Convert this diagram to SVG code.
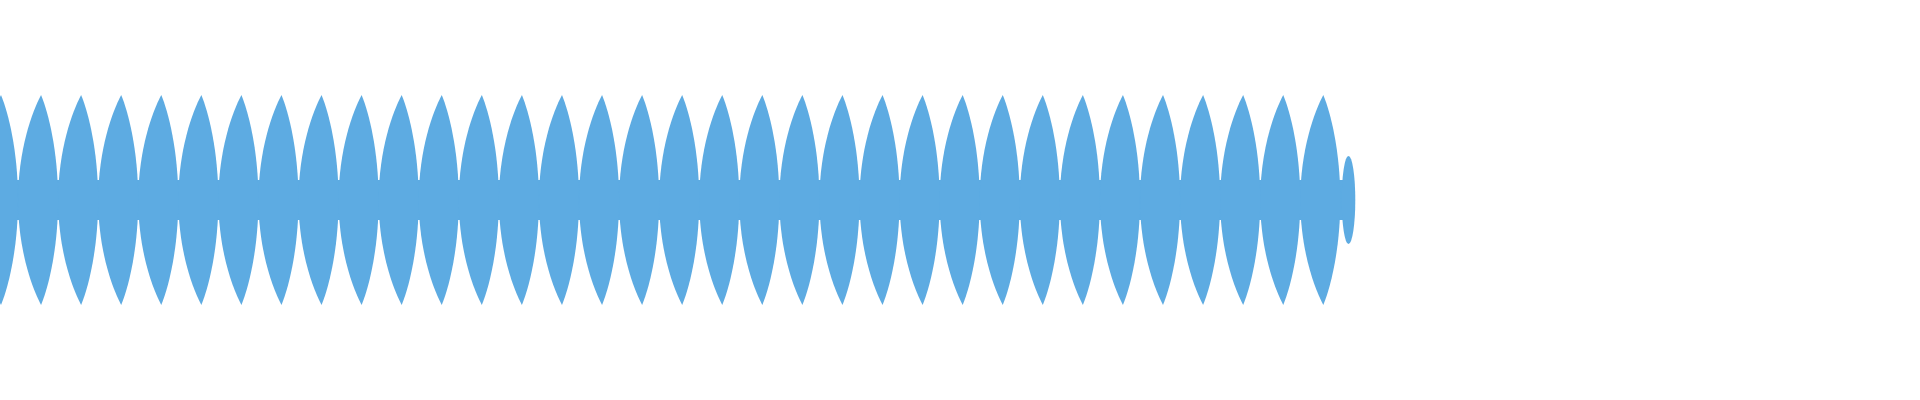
<svg xmlns="http://www.w3.org/2000/svg" width="1920" height="400" viewBox="0 0 1920 400">
<style>.w{fill:#5dabe2}</style>
<defs><path id="lobe" class="w" d="M-23,200 C-23,150 -9,112 0,95 C7,112 17,150 17,200 C17,250 7,288 0,305 C-9,288 -23,250 -23,200 Z"/></defs>
<rect width="1920" height="400" fill="#fff"/>
<g id="wave" class="w">
<rect x="0" y="180" width="1344" height="40"/>
<use href="#lobe" x="1"/><use href="#lobe" x="41.07"/><use href="#lobe" x="81.14"/><use href="#lobe" x="121.21"/><use href="#lobe" x="161.28"/><use href="#lobe" x="201.35"/><use href="#lobe" x="241.42"/><use href="#lobe" x="281.49"/><use href="#lobe" x="321.56"/><use href="#lobe" x="361.63"/><use href="#lobe" x="401.7"/><use href="#lobe" x="441.77"/><use href="#lobe" x="481.84"/><use href="#lobe" x="521.91"/><use href="#lobe" x="561.98"/><use href="#lobe" x="602.05"/><use href="#lobe" x="642.12"/><use href="#lobe" x="682.19"/><use href="#lobe" x="722.26"/><use href="#lobe" x="762.33"/><use href="#lobe" x="802.4"/><use href="#lobe" x="842.47"/><use href="#lobe" x="882.54"/><use href="#lobe" x="922.61"/><use href="#lobe" x="962.68"/><use href="#lobe" x="1002.75"/><use href="#lobe" x="1042.82"/><use href="#lobe" x="1082.89"/><use href="#lobe" x="1122.96"/><use href="#lobe" x="1163.03"/><use href="#lobe" x="1203.1"/><use href="#lobe" x="1243.17"/><use href="#lobe" x="1283.24"/><use href="#lobe" x="1323.31"/>
<ellipse cx="1348.5" cy="200" rx="6.8" ry="44"/>
</g>
</svg>
